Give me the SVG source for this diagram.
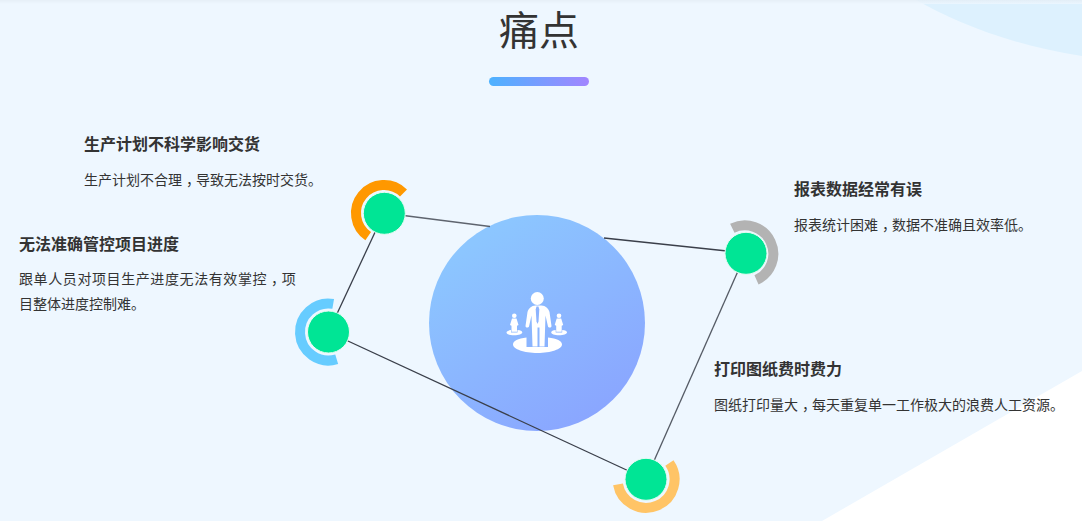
<svg xmlns="http://www.w3.org/2000/svg" width="1082" height="521" viewBox="0 0 1082 521">
<style>
text{font-family:"Noto Sans CJK SC","Liberation Sans",sans-serif;fill:#333}
.h{font-size:16px;font-weight:700}
.b{font-size:14px}
.t{font-size:40px}
.l{fill:none;stroke:#3a3f4a;stroke-width:1.3}
.dot{fill:#00e595;stroke:#e6fbf3;stroke-width:1}
.arc{fill:none;stroke-width:10}
.w{fill:#fff}
</style>
<defs>
<linearGradient id="bar" x1="0" x2="1" y1="0" y2="0"><stop offset="0" stop-color="#4db2ff"/><stop offset="1" stop-color="#a285ff"/></linearGradient>
<linearGradient id="big" x1="0.25" y1="0.1" x2="0.8" y2="0.95"><stop offset="0" stop-color="#8cc6ff"/><stop offset="1" stop-color="#8aa5ff"/></linearGradient>
<linearGradient id="top" x1="0" x2="0" y1="0" y2="1"><stop offset="0" stop-color="#e4edf5"/><stop offset="1" stop-color="#eef7ff"/></linearGradient>
</defs>
<rect width="1082" height="521" fill="#eef7ff"/>
<path d="M916 0C955 22 1010 45 1082 56V0Z" fill="#ddf1fe"/>
<path d="M822 521L1082 371V521Z" fill="#fff"/>
<rect width="1082" height="4" fill="url(#top)" opacity=".8"/>
<g id="title">
<text class="t" x="539" y="45" text-anchor="middle">痛点</text>
<rect x="489" y="77" width="100" height="9" rx="4.5" fill="url(#bar)"/>
</g>
<g id="center">
<circle cx="537" cy="323" r="108" fill="url(#big)"/>
<g id="icon" class="w">
<circle cx="537.300" cy="298.500" r="6.500"/>
<path d="M533 305.500h8.500c4 0 7 3 8 6.500l2 14c0 2-3 2-3.500 .5l-2.500-11-1 31h-5v-19h-2v19h-5l-1-31-2.500 11c-.5 1.500-3.500 1.500-3.500-.5l2-14c1-3.500 4-6.500 8-6.500Z"/>
<path d="M536.500 306.500h2l.8 3-.8 12-1 2.500-1-2.500-.8-12Z" fill="#8db4ff"/>
<path d="M526.500 337.500v9.500h21.500v-9.500c9 1 14 3.500 14 7 0 4.500-11 8.500-24.500 8.500s-24.500-4-24.500-8.500c0-3.500 5-6 13.500-7Z"/>
<circle cx="514.300" cy="315.700" r="2.300"/>
<path d="M512 318.500h4.500l2 6.500-1.500 .7v6h-5.500v-6l-1.500-.7Z"/>
<path d="M511 330v2.500h6.500v-2.500c3 .3 4.800 1.200 4.800 2.500 0 1.600-3.500 2.800-8 2.800s-7.800-1.200-7.800-2.800c0-1.300 1.800-2.200 4.500-2.500Z"/>
<circle cx="559" cy="315.700" r="2.300"/>
<path d="M556.700 318.500h4.500l2 6.500-1.500 .7v6h-5.500v-6l-1.500-.7Z"/>
<path d="M555.700 330v2.500h6.500v-2.500c3 .3 4.800 1.200 4.800 2.500 0 1.600-3.500 2.800-8 2.800s-7.800-1.200-7.800-2.800c0-1.300 1.800-2.200 4.500-2.500Z"/>
</g>
</g>
<g id="connectors">
<path class="l" d="M384 213L490 226.500" stroke-opacity=".8"/>
<path class="l" d="M604 238L746 253"/>
<path class="l" d="M746 253L646 479" stroke-opacity=".85"/>
<path class="l" d="M646 479L328.500 332"/>
<path class="l" d="M328.500 332L384 213"/>
</g>
<g id="node-plan">
<path class="arc" stroke="#ff9800" d="M403.500 193A28 28 0 1 0 368.200 236.200"/>
<circle class="dot" cx="384.300" cy="213.300" r="21"/>
<text class="h" x="84" y="150">生产计划不科学影响交货</text>
<text class="b" x="84" y="185" dx="0 0 0 0 0 0 0 4 -4">生产计划不合理，导致无法按时交货。</text>
</g>
<g id="node-progress">
<path class="arc" stroke="#66ccff" d="M333.200 303.900A28.500 28.500 0 1 0 336.700 359.300"/>
<circle class="dot" cx="328.500" cy="332" r="21"/>
<text class="h" x="19" y="250">无法准确管控项目进度</text>
<text class="b" x="19" y="284" letter-spacing=".58" dx="0 0 0 0 0 0 0 0 0 0 0 0 0 0 0 0 0 4 -4">跟单人员对项目生产进度无法有效掌控，项</text>
<text class="b" x="19" y="309">目整体进度控制难。</text>
</g>
<g id="node-report">
<path class="arc" stroke="#b3b3b3" d="M732.300 228.300A28.500 28.500 0 1 1 756.500 279.900"/>
<circle class="dot" cx="746" cy="253.300" r="21"/>
<text class="h" x="794" y="195">报表数据经常有误</text>
<text class="b" x="794" y="230" dx="0 0 0 0 0 0 4 -4">报表统计困难，数据不准确且效率低。</text>
</g>
<g id="node-print">
<path class="arc" stroke="#ffc466" d="M618 484.400A28.500 28.500 0 1 0 669.400 463"/>
<circle class="dot" cx="646" cy="479.300" r="21"/>
<text class="h" x="714" y="375">打印图纸费时费力</text>
<text class="b" x="714" y="410" dx="0 0 0 0 0 0 4 -4">图纸打印量大，每天重复单一工作极大的浪费人工资源。</text>
</g>
</svg>
